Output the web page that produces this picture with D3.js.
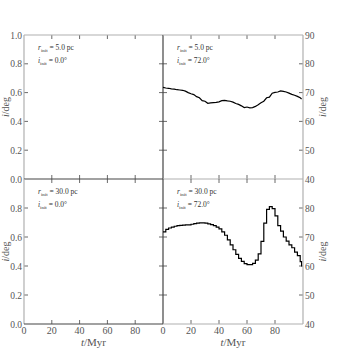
<!DOCTYPE html>
<meta charset="utf-8">
<script src="https://d3js.org/d3.v7.min.js"></script>
<style>
  body { margin: 0; background: #fff; }
  text { font-family: "Liberation Serif", "DejaVu Serif", serif; }
</style>
<div id="chart"></div>
<script>

// time axis of the runs (Myr)
var tTop = [0,2,4,6,8,10,12,14,16,18,20,22,24,26,28,30,32,34,36,38,40,42,44,46,48,50,52,54,56,58,60,62,64,66,68,70,72,74,76,78,80,82,84,86,88,90,92,94,96,98,99];
var iTop = [71.8,71.6,71.5,71.3,71.2,71.0,70.9,70.8,70.5,70.0,69.6,69.3,68.6,68.2,67.2,67.0,66.3,66.4,66.5,66.6,66.8,67.2,67.3,67.1,67.0,66.7,66.2,65.9,65.4,64.8,65.0,64.7,64.8,65.2,65.8,66.5,67.0,68.2,68.4,69.8,70.1,70.2,70.6,70.4,70.2,69.8,69.4,69.1,68.7,68.2,67.8];

var tBot = [0,2,4,6,8,10,12,14,16,18,20,22,24,26,28,30,32,34,36,38,40,42,44,46,48,50,52,54,56,58,60,62,64,66,68,70,72,74,76,78,80,82,84,86,88,90,92,94,96,98,99];
var iBot = [71.8,72.6,73.1,73.4,73.7,73.9,74.0,74.1,74.2,74.2,74.4,74.6,74.8,74.9,74.9,74.8,74.5,74.3,73.9,73.4,72.8,71.8,70.6,69.0,67.3,65.6,64.0,62.6,61.6,60.8,60.5,60.5,60.9,62.0,64.2,68.5,74.8,79.5,80.5,79.8,77.3,73.9,72.0,70.0,68.6,67.3,66.3,64.8,63.6,61.5,59.8];

var xTicks = [0, 20, 40, 60, 80];
var yTicksLeft = [0, 0.2, 0.4, 0.6, 0.8, 1.0];
var yTicksRight = [40, 50, 60, 70, 80, 90];
var rInit = ["5.0", "30.0"];
var iInit = ["0.0", "72.0"];

var W = 339, H = 360;
var svg = d3.select("#chart").append("svg").attr("width", W).attr("height", H);

var colX = [[24, 163], [163, 303]];
var rowY = [[35, 179], [179, 324]];
var light = "#b0b0b0", dark = "#444", labelCol = "#555";

function panel(row, col) {
  var x = d3.scaleLinear().domain([0, 100]).range(colX[col]);
  var y = col == 0
    ? d3.scaleLinear().domain([0, 1]).range([rowY[row][1], rowY[row][0]])
    : d3.scaleLinear().domain([40, 90]).range([rowY[row][1], rowY[row][0]]);
  var g = svg.append("g");
  var x0 = colX[col][0], x1 = colX[col][1], y0 = rowY[row][0], y1 = rowY[row][1];

  // inward ticks on all four sides
  var yt = col == 0 ? yTicksLeft : yTicksRight;
  xTicks.forEach(function(t) {
    if (t == 0) return;
    g.append("line").attr("x1", x(t)).attr("x2", x(t)).attr("y1", y1).attr("y2", y1 - 4).attr("stroke", dark).attr("stroke-width", 0.8);
    g.append("line").attr("x1", x(t)).attr("x2", x(t)).attr("y1", y0).attr("y2", y0 + 4).attr("stroke", dark).attr("stroke-width", 0.8);
  });
  yt.forEach(function(v) {
    if (v == yt[0] || v == yt[yt.length - 1]) return;
    g.append("line").attr("x1", x0).attr("x2", x0 + 4).attr("y1", y(v)).attr("y2", y(v)).attr("stroke", dark).attr("stroke-width", 0.8);
    g.append("line").attr("x1", x1).attr("x2", x1 - 4).attr("y1", y(v)).attr("y2", y(v)).attr("stroke", dark).attr("stroke-width", 0.8);
  });

  // tick labels
  xTicks.forEach(function(t) {
    if (row == 1) g.append("text").attr("x", x(t)).attr("y", y1 + 10).attr("text-anchor", "middle")
      .attr("font-size", 10).attr("fill", labelCol).text(t);
  });
  yt.forEach(function(v, k) {
    if (row == 1 && k == yt.length - 1) return;
    var lab = col == 0 ? d3.format(".1f")(v) : v;
    g.append("text").attr("x", col == 0 ? x0 - 2 : x1 + 2).attr("y", y(v) + 3.5)
      .attr("text-anchor", col == 0 ? "end" : "start")
      .attr("font-size", 9.5).attr("fill", labelCol).text(lab);
  });

  // annotation
  var ann = g.append("text").attr("x", x0 + 14).attr("y", y0 + 15).attr("font-size", 7.5).attr("fill", "#333");
  ann.append("tspan").attr("font-style", "italic").text("r");
  ann.append("tspan").attr("font-size", 5).attr("dy", 1.5).text("init");
  ann.append("tspan").attr("dy", -1.5).text(" = " + rInit[row] + " pc");
  var ann2 = g.append("text").attr("x", x0 + 14).attr("y", y0 + 28).attr("font-size", 7.5).attr("fill", "#333");
  ann2.append("tspan").attr("font-style", "italic").text("i");
  ann2.append("tspan").attr("font-size", 5).attr("dy", 1.5).text("init");
  ann2.append("tspan").attr("dy", -1.5).text(" = " + iInit[col] + "°");

  // data
  if (col == 1) {
    var tt = row == 0 ? tTop : tBot, ii = row == 0 ? iTop : iBot;
    var line = d3.line().x(function(d, k) { return x(tt[k]); }).y(function(d) { return y(d); })
      .curve(row == 0 ? d3.curveLinear : d3.curveStepAfter);
    g.append("path").datum(ii).attr("d", line).attr("fill", "none").attr("stroke", "#000").attr("stroke-width", 1.2);
  }

  // spines
  function sp(a, b, c, d, col2) {
    g.append("line").attr("x1", a).attr("y1", b).attr("x2", c).attr("y2", d).attr("stroke", col2).attr("stroke-width", 1.2);
  }
  if (col == 0) {
    sp(x0, y0, x0, y1, light);
    if (row == 0) sp(x0, y0, x1, y0, light);
    sp(x0, y1, x1, y1, dark);
    sp(x1, y0, x1, y1, dark);
  } else {
    if (row == 0) sp(x0, y0, x1, y0, light);
    sp(x1, y0, x1, y1, light);
    sp(x0, y1, x1, y1, light);
  }

  // axis labels
  var ym = (y0 + y1) / 2;
  var yl = g.append("text").attr("transform", "translate(" + (col == 0 ? 9 : 326) + "," + ym + ") rotate(-90)")
    .attr("text-anchor", "middle").attr("font-size", 10).attr("fill", labelCol);
  yl.append("tspan").attr("font-style", "italic").text("i");
  yl.append("tspan").text("/deg");
  if (row == 1) {
    var xl = g.append("text").attr("x", (x0 + x1) / 2).attr("y", 346).attr("text-anchor", "middle")
      .attr("font-size", 11).attr("fill", labelCol);
    xl.append("tspan").attr("font-style", "italic").text("t");
    xl.append("tspan").text("/Myr");
  }
}

panel(0, 0); panel(0, 1); panel(1, 0); panel(1, 1);
</script>
